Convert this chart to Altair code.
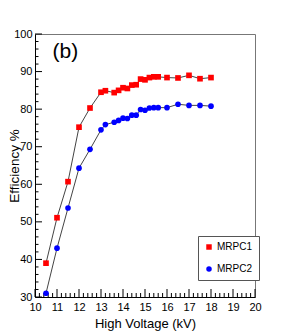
import altair as alt
import pandas as pd
import numpy as np

# ---- data ----
hv = [10.5, 11.0, 11.5, 12.0, 12.5, 13.0, 13.2, 13.6, 13.8, 14.0, 14.2, 14.4,
      14.6, 14.8, 15.0, 15.2, 15.4, 15.6, 16.0, 16.5, 17.0, 17.5, 18.0]
eff_mrpc1 = [39.0, 51.1, 60.7, 75.2, 80.3, 84.5, 84.9, 84.4, 85.0, 85.7, 85.5, 86.4,
             86.5, 88.0, 87.8, 88.4, 88.6, 88.6, 88.4, 88.3, 89.0, 88.1, 88.4]
eff_mrpc2 = [31.0, 43.0, 53.7, 64.3, 69.3, 74.5, 75.9, 76.5, 77.0, 77.6, 77.5, 78.4,
             78.4, 79.9, 79.7, 80.3, 80.4, 80.4, 80.4, 81.3, 81.0, 81.0, 80.8]
series_names = ["MRPC1", "MRPC2"]
series_colors = ["#ff0000", "#0000ff"]
series_shapes = ["square", "circle"]

x_major = list(range(10, 21))
x_minor = [round(v, 1) for v in np.arange(10, 20.01, 0.2) if abs(v - round(v)) > 1e-6]
y_major = list(range(30, 101, 10))
y_minor = [v for v in range(30, 101, 2) if v % 10 != 0]

panel_label = ["(b)"]
panel_label_x = [11.38]
panel_label_y = [95.2]

W, H = 220, 263
FONT = "Liberation Sans"

df = pd.DataFrame({
    "hv": hv + hv,
    "eff": eff_mrpc1 + eff_mrpc2,
    "series": [series_names[0]] * len(hv) + [series_names[1]] * len(hv),
})

xs = alt.Scale(domain=[10, 20], nice=False, zero=False)
ys = alt.Scale(domain=[30, 100], nice=False, zero=False)

xaxis = alt.Axis(values=x_major, ticks=False, grid=False, domainColor="black",
                 labelFont=FONT, labelFontSize=11, labelColor="black", labelPadding=4,
                 labelFlush=False, labelOverlap=False,
                 title="High Voltage (kV)", titleFont=FONT, titleFontSize=13,
                 titleFontWeight="normal", titleColor="black",
                 titleY=26, titleBaseline="middle")
yaxis = alt.Axis(values=y_major, ticks=False, grid=False, domainColor="black",
                 labelFont=FONT, labelFontSize=11, labelColor="black", labelPadding=3,
                 labelFlush=False, labelOverlap=False,
                 title="Efficiency %", titleFont=FONT, titleFontSize=13.5,
                 titleFontWeight="normal", titleColor="black",
                 titleX=-21, titleY=H / 2, titleAngle=270, titleAlign="center",
                 titleBaseline="middle")

legend = alt.Legend(orient="none", legendX=163, legendY=202, title=None,
                    padding=6, rowPadding=12, symbolSize=30,
                    labelFont=FONT, labelFontSize=10, labelColor="black",
                    strokeColor="#555555", fillColor="white",
                    labelOffset=3, cornerRadius=0)

base = alt.Chart(df)

lines = base.mark_line(color="#444444", strokeWidth=1).encode(
    x=alt.X("hv:Q", scale=xs, axis=xaxis),
    y=alt.Y("eff:Q", scale=ys, axis=yaxis),
    detail="series:N",
)

points = base.mark_point(filled=True, opacity=1).encode(
    x=alt.X("hv:Q", scale=xs, axis=xaxis),
    y=alt.Y("eff:Q", scale=ys, axis=yaxis),
    color=alt.Color("series:N", scale=alt.Scale(domain=series_names, range=series_colors),
                    legend=legend),
    shape=alt.Shape("series:N", scale=alt.Scale(domain=series_names, range=series_shapes),
                    legend=legend),
    size=alt.value(32),
)

tick_color = "black"
xmaj = alt.Chart(pd.DataFrame({"v": x_major})).mark_rule(color=tick_color, strokeWidth=1).encode(
    x=alt.X("v:Q", scale=xs, axis=xaxis), y=alt.value(H), y2=alt.value(H - 8))
xmin = alt.Chart(pd.DataFrame({"v": x_minor})).mark_rule(color=tick_color, strokeWidth=1).encode(
    x=alt.X("v:Q", scale=xs, axis=xaxis), y=alt.value(H), y2=alt.value(H - 4))
ymaj = alt.Chart(pd.DataFrame({"v": y_major})).mark_rule(color=tick_color, strokeWidth=1).encode(
    y=alt.Y("v:Q", scale=ys, axis=yaxis), x=alt.value(0), x2=alt.value(7))
ymin = alt.Chart(pd.DataFrame({"v": y_minor})).mark_rule(color=tick_color, strokeWidth=1).encode(
    y=alt.Y("v:Q", scale=ys, axis=yaxis), x=alt.value(0), x2=alt.value(3.5))

label = alt.Chart(pd.DataFrame({"t": panel_label, "x": panel_label_x, "y": panel_label_y})).mark_text(
    font=FONT, fontSize=21, color="black", align="center", baseline="middle").encode(
    x=alt.X("x:Q", scale=xs, axis=xaxis), y=alt.Y("y:Q", scale=ys, axis=yaxis), text="t:N")

chart = alt.layer(xmaj, xmin, ymaj, ymin, lines, points, label).properties(
    width=W, height=H,
    autosize=alt.AutoSizeParams(type="none"),
    padding={"left": 27, "top": 26, "right": 20, "bottom": 36},
    background="white",
).configure_view(stroke="#777777", strokeWidth=1).configure_axis(labelOverlap=False)

chart.save("out.html", embed_options={"renderer": "svg", "actions": False})
